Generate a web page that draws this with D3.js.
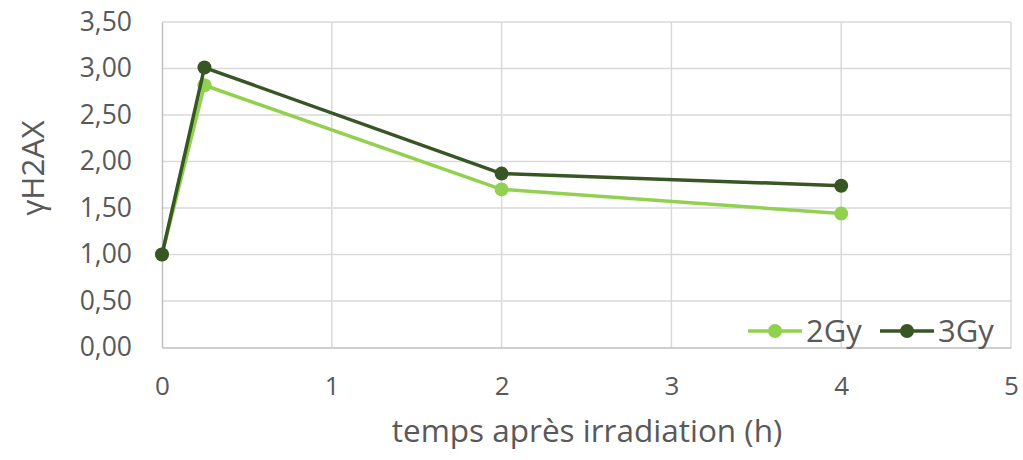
<html>
<head>
<script src="https://d3js.org/d3.v7.min.js"></script>
<style>
  body { margin: 0; background: #fff; }
  text { font-family: "Open Sans", sans-serif; fill: #595959; }
</style>
</head>
<body>
<svg id="chart" width="1023" height="460"></svg>
<script>
// data
const hours = [0, 0.25, 2, 4];
const gy2 = [1.00, 2.82, 1.70, 1.44];
const gy3 = [1.00, 3.01, 1.87, 1.74];
const seriesNames = ["2Gy", "3Gy"];
const seriesColors = ["#92D050", "#375623"];
const xTicks = [0, 1, 2, 3, 4, 5];
const yTicks = [0, 0.5, 1, 1.5, 2, 2.5, 3, 3.5];

let svg = d3.select("svg#chart");
const plotLeft = 162, plotRight = 1011, plotTop = 22, plotBottom = 347.5;

const x = d3.scaleLinear().domain([0, 5]).range([plotLeft, plotRight]);
const y = d3.scaleLinear().domain([0, 3.5]).range([plotBottom, plotTop]);

const fmt = d => d3.format(".2f")(d).replace(".", ",");

// gridlines
svg.append("g")
  .selectAll("line")
  .data(yTicks.slice(1))
  .join("line")
  .attr("x1", plotLeft).attr("x2", plotRight)
  .attr("y1", d => y(d)).attr("y2", d => y(d))
  .attr("stroke", "#d9d9d9").attr("stroke-width", 1.5);

svg.append("g")
  .selectAll("line")
  .data(xTicks.slice(1))
  .join("line")
  .attr("x1", d => x(d)).attr("x2", d => x(d))
  .attr("y1", plotTop).attr("y2", plotBottom)
  .attr("stroke", "#d9d9d9").attr("stroke-width", 1.5);

// axes
const xAxis = svg.append("g")
  .attr("transform", `translate(0,${plotBottom})`)
  .call(d3.axisBottom(x).tickValues(xTicks).tickSize(0).tickPadding(29).tickFormat(d3.format("d")));
xAxis.select(".domain").attr("stroke", "#bfbfbf").attr("stroke-width", 1.5);
xAxis.selectAll("text").style("font-size", "26px").style("fill", "#595959");

const yAxis = svg.append("g")
  .attr("transform", `translate(${plotLeft},0)`)
  .call(d3.axisLeft(y).tickValues(yTicks).tickSize(0).tickPadding(30).tickFormat(fmt));
yAxis.select(".domain").attr("stroke", "#bfbfbf").attr("stroke-width", 1.5);
yAxis.selectAll("text").style("font-size", "26.5px").style("fill", "#595959");

// axis titles
svg.append("text")
  .attr("x", 587)
  .attr("y", 442)
  .attr("text-anchor", "middle")
  .style("font-size", "31.5px")
  .text("temps après irradiation (h)");

svg.append("text")
  .attr("transform", `translate(44,168) rotate(-90)`)
  .attr("text-anchor", "middle")
  .style("font-size", "31.5px")
  .text("γH2AX");

// series
const series = [gy2, gy3];
const line = d3.line().x((d, i) => x(hours[i])).y(d => y(d));

series.forEach((vals, s) => {
  svg.append("path")
    .datum(vals)
    .attr("d", line)
    .attr("fill", "none")
    .attr("stroke", seriesColors[s])
    .attr("stroke-width", 3.5)
    .attr("stroke-linejoin", "round");
  svg.append("g")
    .selectAll("circle")
    .data(vals)
    .join("circle")
    .attr("cx", (d, i) => x(hours[i]))
    .attr("cy", d => y(d))
    .attr("r", 7)
    .attr("fill", seriesColors[s]);
});

// legend
const legendX = [748, 880];
seriesNames.forEach((name, s) => {
  const g = svg.append("g").attr("transform", `translate(${legendX[s]},331)`);
  g.append("line").attr("x1", 0).attr("x2", 54)
    .attr("stroke", seriesColors[s]).attr("stroke-width", 3.5);
  g.append("circle").attr("cx", 27).attr("r", 7).attr("fill", seriesColors[s]);
  g.append("text").attr("x", 58).attr("y", 11)
    .style("font-size", "31px").text(name);
});
</script>
</body>
</html>
